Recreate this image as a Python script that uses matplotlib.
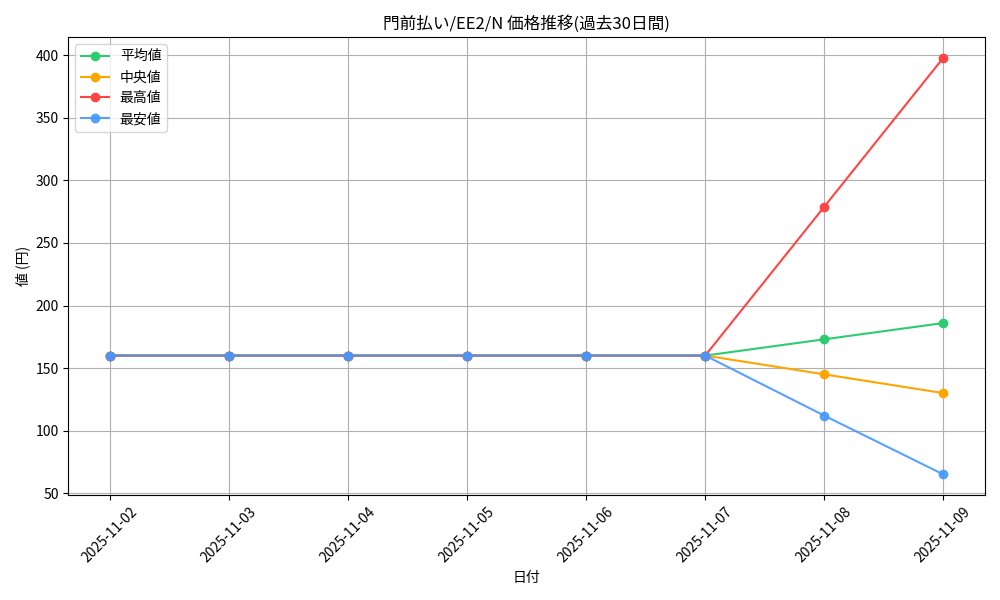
import matplotlib
matplotlib.use('Agg')
import matplotlib.pyplot as plt

plt.rcParams['font.family'] = ['Noto Sans CJK JP', 'DejaVu Sans']

dates = ['2025-11-02', '2025-11-03', '2025-11-04', '2025-11-05',
         '2025-11-06', '2025-11-07', '2025-11-08', '2025-11-09']
avg_vals = [160, 160, 160, 160, 160, 160, 173, 186]
med_vals = [160, 160, 160, 160, 160, 160, 145, 130]
max_vals = [160, 160, 160, 160, 160, 160, 279, 398]
min_vals = [160, 160, 160, 160, 160, 160, 112, 65]

fig, ax = plt.subplots(figsize=(10, 6), dpi=100)

ax.plot(dates, avg_vals, marker='o', color='#2ecc71', label='平均値')
ax.plot(dates, med_vals, marker='o', color='#ffa500', label='中央値')
ax.plot(dates, max_vals, marker='o', color='#ff4444', label='最高値')
ax.plot(dates, min_vals, marker='o', color='#4499ff', label='最安値', alpha=0.9)

ax.set_title('門前払い/EE2/N 価格推移(過去30日間)')
ax.set_xlabel('日付')
ax.set_ylabel('値 (円)')
ax.grid(True)
ax.legend(loc='upper left')
plt.xticks(rotation=45)

plt.tight_layout()
plt.savefig('out.png')
